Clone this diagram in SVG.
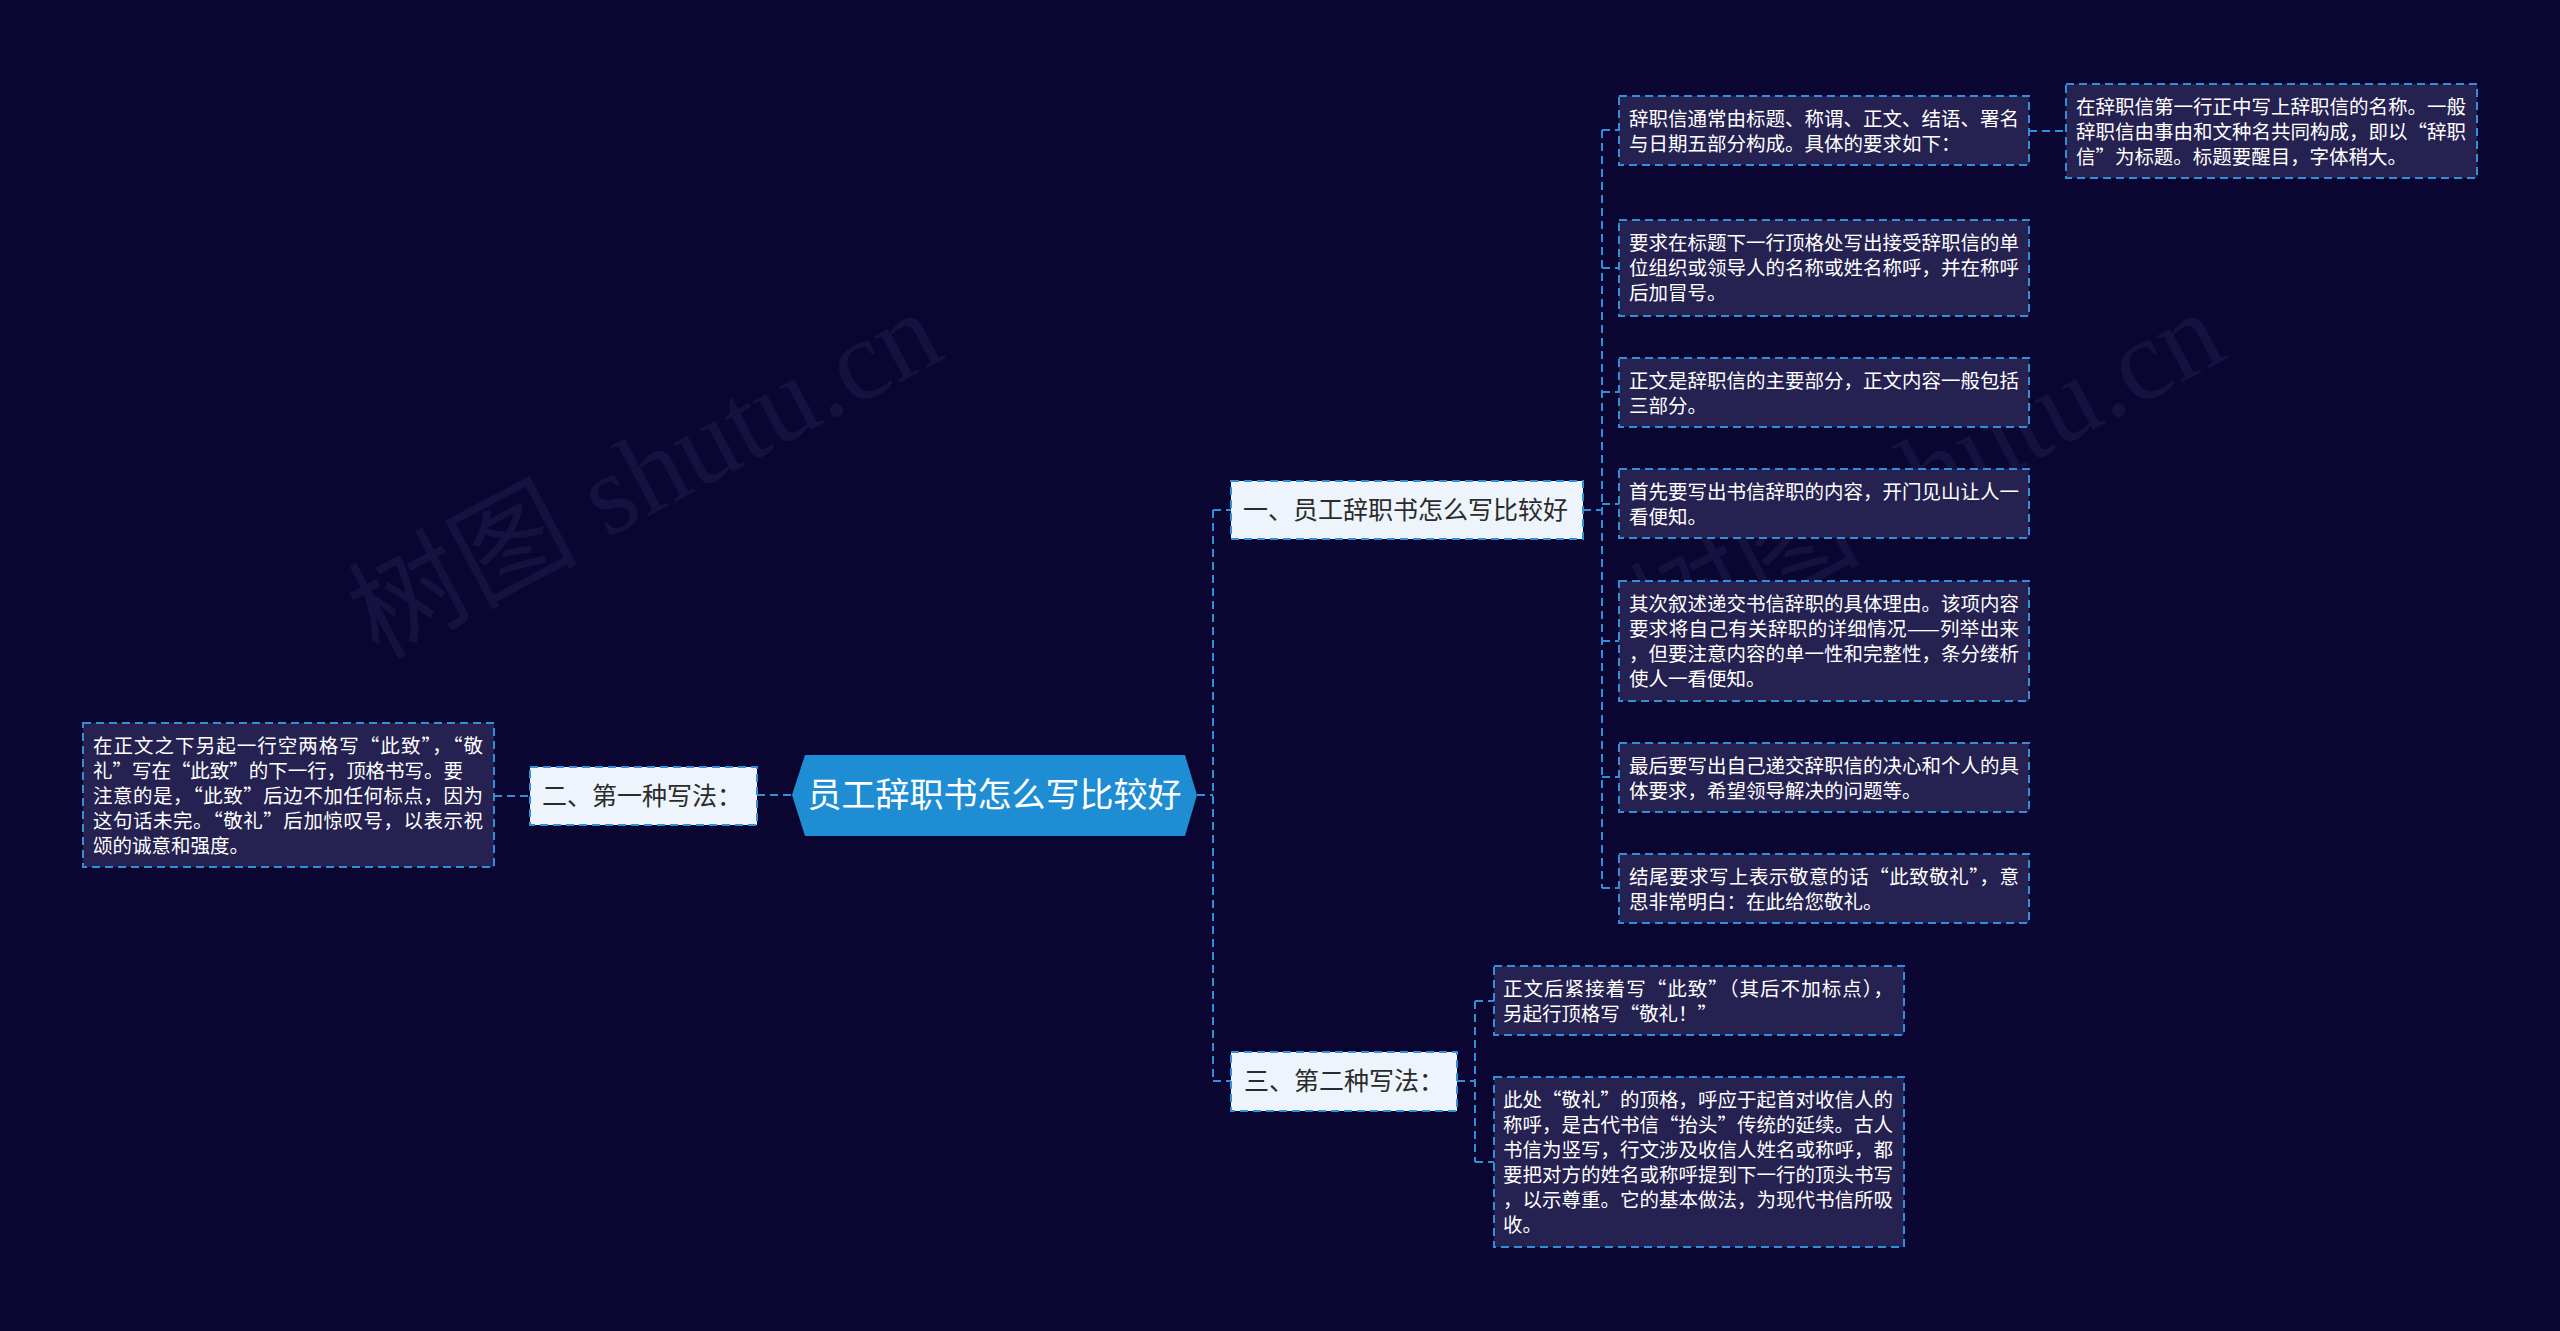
<svg xmlns="http://www.w3.org/2000/svg" width="2560" height="1331" viewBox="0 0 2560 1331">
<style>
.bg{fill:#0a0631}
.wm{fill:#151240;font-family:"Liberation Serif","Noto Sans CJK SC",serif;font-size:115px}
.leaf rect{fill:#252150;stroke:#2f8fd8;stroke-width:2;stroke-dasharray:8 5}
.leaf text{fill:#ffffff;font-family:"Noto Sans CJK SC",sans-serif;font-size:19.5px}
.l1 rect{fill:#eef4fc;stroke:#2f8fd8;stroke-width:2;stroke-dasharray:8 5}
.l1 text{fill:#2b2b2b;font-family:"Noto Sans CJK SC",sans-serif;font-size:25px}
.root polygon{fill:#1f8dd3}
.root text{fill:#ffffff;font-family:"Noto Sans CJK SC",sans-serif;font-size:34px}
.conn path{fill:none;stroke:#2f8fd8;stroke-width:2;stroke-dasharray:8 5}
</style>
<rect class="bg" x="0" y="0" width="2560" height="1331"/>
<g id="watermarks">
<text class="wm" x="378" y="660" transform="rotate(-28 378 660)">树图 shutu.cn</text>
<text class="wm" x="1660" y="660" transform="rotate(-28 1660 660)">树图 shutu.cn</text>
</g>
<g id="connectors" class="conn">
<path d="M757 795 H792"/>
<path d="M494 796 H530"/>
<path d="M1197 795 H1213"/>
<path d="M1213 510 V1081"/>
<path d="M1213 510 H1231"/>
<path d="M1213 1081 H1231"/>
<path d="M1583 510 H1602"/>
<path d="M1602 130 V888"/>
<path d="M1602 130 H1619"/>
<path d="M1602 268 H1619"/>
<path d="M1602 392 H1619"/>
<path d="M1602 504 H1619"/>
<path d="M1602 641 H1619"/>
<path d="M1602 777 H1619"/>
<path d="M1602 888 H1619"/>
<path d="M2029 131 H2066"/>
<path d="M1457 1081 H1475"/>
<path d="M1475 1001 V1162"/>
<path d="M1475 1001 H1494"/>
<path d="M1475 1162 H1494"/>
</g>
<g id="root" class="root">
<polygon points="792,795 805,755 1185,755 1197,795 1185,836 805,836"/>
<text x="994.5" y="807" text-anchor="middle">员工辞职书怎么写比较好</text>
</g>
<g id="n1" class="l1">
<rect x="1231" y="481" width="352" height="58"/>
<text x="1243" y="519">一、员工辞职书怎么写比较好</text>
</g>
<g id="n2" class="l1">
<rect x="530" y="767" width="227" height="58"/>
<text x="542" y="805">二、第一种写法：</text>
</g>
<g id="n3" class="l1">
<rect x="1231" y="1052" width="226" height="59"/>
<text x="1244" y="1090">三、第二种写法：</text>
</g>
<g id="n1-1" class="leaf">
<rect x="1619" y="96" width="410" height="69"/>
<text x="1629" y="126">辞职信通常由标题、称谓、正文、结语、署名</text>
<text x="1629" y="151">与日期五部分构成。具体的要求如下：</text>
</g>
<g id="n1-1-1" class="leaf">
<rect x="2066" y="84" width="411" height="94"/>
<text x="2076" y="114">在辞职信第一行正中写上辞职信的名称。一般</text>
<text x="2076" y="139" textLength="390" lengthAdjust="spacing">辞职信由事由和文种名共同构成，即以“辞职</text>
<text x="2076" y="164" textLength="331" lengthAdjust="spacing">信”为标题。标题要醒目，字体稍大。</text>
</g>
<g id="n1-2" class="leaf">
<rect x="1619" y="220" width="410" height="96"/>
<text x="1629" y="250">要求在标题下一行顶格处写出接受辞职信的单</text>
<text x="1629" y="275">位组织或领导人的名称或姓名称呼，并在称呼</text>
<text x="1629" y="300">后加冒号。</text>
</g>
<g id="n1-3" class="leaf">
<rect x="1619" y="358" width="410" height="69"/>
<text x="1629" y="388">正文是辞职信的主要部分，正文内容一般包括</text>
<text x="1629" y="413">三部分。</text>
</g>
<g id="n1-4" class="leaf">
<rect x="1619" y="469" width="410" height="69"/>
<text x="1629" y="499">首先要写出书信辞职的内容，开门见山让人一</text>
<text x="1629" y="524">看便知。</text>
</g>
<g id="n1-5" class="leaf">
<rect x="1619" y="581" width="410" height="120"/>
<text x="1629" y="611">其次叙述递交书信辞职的具体理由。该项内容</text>
<text x="1629" y="636" textLength="390" lengthAdjust="spacing">要求将自己有关辞职的详细情况——列举出来</text>
<text x="1629" y="661">，但要注意内容的单一性和完整性，条分缕析</text>
<text x="1629" y="686">使人一看便知。</text>
</g>
<g id="n1-6" class="leaf">
<rect x="1619" y="743" width="410" height="69"/>
<text x="1629" y="773">最后要写出自己递交辞职信的决心和个人的具</text>
<text x="1629" y="798">体要求，希望领导解决的问题等。</text>
</g>
<g id="n1-7" class="leaf">
<rect x="1619" y="854" width="410" height="69"/>
<text x="1629" y="884" textLength="390" lengthAdjust="spacing">结尾要求写上表示敬意的话“此致敬礼”，意</text>
<text x="1629" y="909">思非常明白：在此给您敬礼。</text>
</g>
<g id="n2-1" class="leaf">
<rect x="83" y="723" width="411" height="144"/>
<text x="93" y="753" textLength="390" lengthAdjust="spacing">在正文之下另起一行空两格写“此致”，“敬</text>
<text x="93" y="778" textLength="370" lengthAdjust="spacing">礼”写在“此致”的下一行，顶格书写。要</text>
<text x="93" y="803" textLength="390" lengthAdjust="spacing">注意的是，“此致”后边不加任何标点，因为</text>
<text x="93" y="828" textLength="390" lengthAdjust="spacing">这句话未完。“敬礼”后加惊叹号，以表示祝</text>
<text x="93" y="853">颂的诚意和强度。</text>
</g>
<g id="n3-1" class="leaf">
<rect x="1494" y="966" width="410" height="69"/>
<text x="1503" y="996" textLength="390" lengthAdjust="spacing">正文后紧接着写“此致”（其后不加标点），</text>
<text x="1503" y="1021" textLength="214" lengthAdjust="spacing">另起行顶格写“敬礼！”</text>
</g>
<g id="n3-2" class="leaf">
<rect x="1494" y="1077" width="410" height="170"/>
<text x="1503" y="1107" textLength="390" lengthAdjust="spacing">此处“敬礼”的顶格，呼应于起首对收信人的</text>
<text x="1503" y="1132" textLength="390" lengthAdjust="spacing">称呼，是古代书信“抬头”传统的延续。古人</text>
<text x="1503" y="1157">书信为竖写，行文涉及收信人姓名或称呼，都</text>
<text x="1503" y="1182">要把对方的姓名或称呼提到下一行的顶头书写</text>
<text x="1503" y="1207">，以示尊重。它的基本做法，为现代书信所吸</text>
<text x="1503" y="1232">收。</text>
</g>
</svg>
